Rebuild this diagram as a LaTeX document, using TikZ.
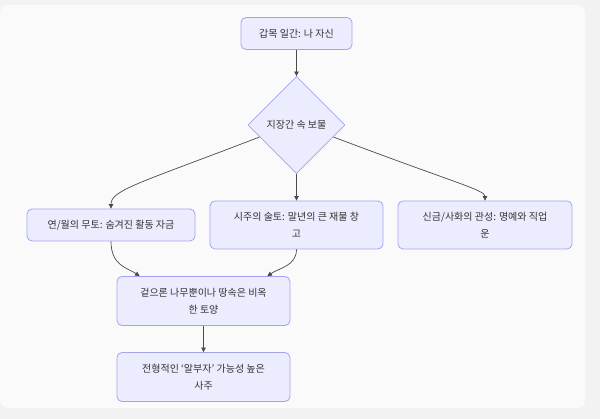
\documentclass[tikz,border=0pt]{standalone}
\usepackage{fontspec}
\setmainfont{Noto Sans CJK KR}
\usepackage{xcolor}
\usepackage{tikz}
\usetikzlibrary{shapes.geometric,arrows.meta}
\definecolor{pagebg}{HTML}{F2F2F3}
\definecolor{panel}{HTML}{FAFAFA}
\definecolor{boxfill}{HTML}{ECECFF}
\definecolor{boxline}{HTML}{A3A3F2}
\definecolor{ink}{HTML}{333333}
\definecolor{wire}{HTML}{4A4A4A}
\tikzset{
  box/.style={draw=boxline, fill=boxfill, line width=0.8pt, rounded corners=5pt, text=ink, align=center, inner sep=0pt, font=\fontsize{10}{17.5}\selectfont},
  gem/.style={diamond, aspect=1, draw=boxline, fill=boxfill, line width=0.8pt, text=ink, inner sep=0pt, minimum width=97pt, minimum height=97pt, font=\fontsize{10}{17.5}\selectfont},
  link/.style={draw=wire, line width=0.7pt, -{Triangle[length=4.5pt,width=4.5pt]}}
}

\begin{document}
\begin{tikzpicture}[x=1pt,y=-1pt]
  \useasboundingbox[fill=pagebg] (0,0) rectangle (600,419);
  \fill[panel,rounded corners=8pt] (0,5) rectangle (585,408);
  \node[box,minimum width=111pt,minimum height=32pt] (self) at (296.5,33.5) {갑목 일간: 나 자신};
  \node[gem] (hid) at (296.5,125) {지장간 속 보물};
  \node[box,minimum width=168pt,minimum height=32pt] (yw) at (111,225) {연/월의 무토: 숨겨진 활동 자금};
  \node[box,minimum width=173pt,minimum height=48pt] (hour) at (296.5,225) {시주의 술토: 말년의 큰 재물 창\\고};
  \node[box,minimum width=174pt,minimum height=48pt] (gov) at (485,225) {신금/사화의 관성: 명예와 직업\\운};
  \node[box,minimum width=173pt,minimum height=49pt] (soil) at (203.5,301) {겉으론 나무뿐이나 땅속은 비옥\\한 토양};
  \node[box,minimum width=173pt,minimum height=49pt] (rich) at (203.5,377) {전형적인 `알부자' 가능성 높은\\사주};
  \draw[link] (self.south) -- (hid.north);
  \draw[link] (hid.198) .. controls (140,183) and (111,190) .. (yw.north);
  \draw[link] (hid.south) -- (hour.north);
  \draw[link] (hid.342) .. controls (455,183) and (485,190) .. (gov.north);
  \draw[link] (yw.south) .. controls (111,266) and (128,268) .. ([xshift=23pt]soil.north west);
  \draw[link] (hour.south) .. controls (296.5,266) and (279,268) .. ([xshift=-23pt]soil.north east);
  \draw[link] (soil.south) -- (rich.north);
\end{tikzpicture}
\end{document}
